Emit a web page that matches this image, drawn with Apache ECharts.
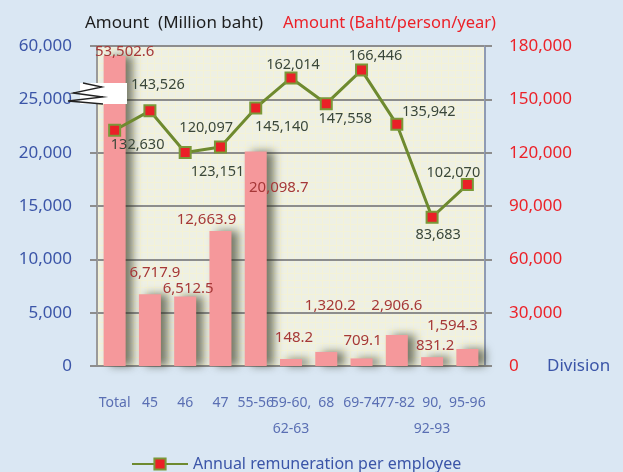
<!DOCTYPE html>
<html>
<head>
<meta charset="utf-8">
<style>
  html, body { margin: 0; padding: 0; background: #dae7f3; }
  #chart { width: 623px; height: 472px; }
</style>
<script src="https://cdn.jsdelivr.net/npm/echarts@6/dist/echarts.min.js"></script>
</head>
<body>
<div id="chart"></div>
<script>
// divisions on the x axis
const divisions = ['Total', '45', '46', '47', '55-56', '59-60,\n62-63', '68', '69-74', '77-82', '90,\n92-93', '95-96']
// amount, million baht (left axis, broken above 25,000)
const amountMillion = [53502.6, 6717.9, 6512.5, 12663.9, 20098.7, 148.2, 1320.2, 709.1, 2906.6, 831.2, 1594.3]
// annual remuneration per employee, baht/person/year (right axis)
const perEmployee = [132630, 143526, 120097, 123151, 145140, 162014, 147558, 166446, 135942, 83683, 102070]

// label nudges so the numbers sit where the original puts them
const barLabelOffsets = [[10, 3], [5, -14], [3, 0], [-14, -4], [23, 44], [3, -14], [4, -39], [1, -10], [0, -22], [3, -4], [-15, -16]]
const lineLabelOffsets = [[23, 15], [8, -26], [21, -25], [-3, 25], [26, 19], [2, -13], [19, 15], [14, -14], [32, -12], [6, 18], [-14, -12]]

// left axis is broken: 0..25,000 linear, then 25,000..60,000 squeezed into the last step
const BREAK = 25000
const SQUEEZE = 7
function toAxis(v) {
  return v <= BREAK ? v : BREAK + (v - BREAK) / SQUEEZE
}
function fromAxis(a) {
  return a <= BREAK ? a : BREAK + (a - BREAK) * SQUEEZE
}
function fmt(v, digits) {
  return v.toLocaleString('en-US', { minimumFractionDigits: digits, maximumFractionDigits: digits })
}

// faint checked paper behind the plot
const paper = document.createElement('canvas')
paper.width = 7
paper.height = 7
const pctx = paper.getContext('2d')
pctx.fillStyle = '#eef0e4'
pctx.fillRect(0, 0, 7, 7)
pctx.fillStyle = '#f4f2d6'
pctx.fillRect(0, 0, 7, 1)
pctx.fillRect(0, 0, 1, 7)

const FONT = 'Noto Sans'
const BLUE = '#3b55a8'
const RED = '#ec2229'
const GRAY = '#8d8d8d'

const chart = echarts.init(document.getElementById('chart'))

chart.setOption({
  backgroundColor: '#dae7f3',
  textStyle: { fontFamily: FONT },
  animation: false,
  title: [
    { text: 'Amount  (Million baht)', left: 80, top: 10, textStyle: { color: '#1e1e1e', fontSize: 17, fontWeight: 'normal', fontFamily: FONT } },
    { text: 'Amount (Baht/person/year)', left: 278, top: 10, textStyle: { color: RED, fontSize: 16.5, fontWeight: 'normal', fontFamily: FONT } }
  ],
  grid: {
    left: 97,
    right: 138,
    top: 46,
    bottom: 106,
    show: true,
    borderWidth: 0,
    backgroundColor: { image: paper, repeat: 'repeat' }
  },
  legend: {
    left: 126,
    top: 451,
    itemWidth: 56,
    itemHeight: 14,
    textStyle: { color: BLUE, fontSize: 16, fontFamily: FONT },
    data: ['Annual remuneration per employee']
  },
  xAxis: {
    type: 'category',
    data: divisions,
    name: 'Division',
    nameLocation: 'end',
    nameGap: 62,
    nameTextStyle: { color: BLUE, fontSize: 17, verticalAlign: 'middle' },
    axisLine: { lineStyle: { color: GRAY, width: 2 } },
    axisTick: { show: false },
    axisLabel: { color: '#5a6fb3', fontSize: 14, margin: 24, lineHeight: 26, interval: 0 }
  },
  yAxis: [
    {
      type: 'value',
      min: 0,
      max: 30000,
      interval: 5000,
      axisLine: { show: true, lineStyle: { color: '#9a9a9a', width: 2 } },
      axisTick: { show: true, length: 7, lineStyle: { color: GRAY, width: 2 } },
      splitLine: { lineStyle: { color: GRAY, width: 2 } },
      axisLabel: {
        color: BLUE,
        fontSize: 17,
        margin: 25,
        formatter: function (a) { return fmt(fromAxis(a), 0) }
      }
    },
    {
      type: 'value',
      min: 0,
      max: 180000,
      interval: 30000,
      position: 'right',
      axisLine: { show: true, lineStyle: { color: '#8f9bb4', width: 2 } },
      axisTick: { show: true, length: 7, lineStyle: { color: GRAY, width: 2 } },
      splitLine: { show: false },
      axisLabel: {
        color: RED,
        fontSize: 17,
        margin: 24,
        formatter: function (v) { return fmt(v, 0) }
      }
    }
  ],
  series: [
    {
      name: 'Amount',
      type: 'bar',
      yAxisIndex: 0,
      barWidth: 22,
      barMinHeight: 7,
      itemStyle: {
        color: '#f5989b',
        shadowColor: 'rgba(40,45,25,0.6)',
        shadowBlur: 9,
        shadowOffsetX: 7
      },
      data: amountMillion.map(function (v, i) {
        return {
          value: toAxis(v),
          label: { offset: barLabelOffsets[i] }
        }
      }),
      label: {
        show: true,
        position: 'top',
        distance: 0,
        color: '#a63838',
        fontSize: 15,
        formatter: function (p) { return fmt(amountMillion[p.dataIndex], 1) }
      },
      z: 2
    },
    {
      name: 'Annual remuneration per employee',
      type: 'line',
      yAxisIndex: 1,
      symbol: 'rect',
      symbolSize: 11,
      lineStyle: { color: '#6e8a2f', width: 3 },
      itemStyle: { color: '#ea2027', borderColor: '#7a9838', borderWidth: 2 },
      data: perEmployee.map(function (v, i) {
        return { value: v, label: { offset: lineLabelOffsets[i] } }
      }),
      label: {
        show: true,
        position: 'inside',
        color: '#3a473a',
        fontSize: 14.5,
        formatter: function (p) { return fmt(p.value, 0) }
      },
      z: 3
    }
  ],
  graphic: [
    {
      type: 'rect',
      z: 100,
      shape: { x: 80, y: 83, width: 47, height: 21 },
      style: { fill: '#ffffff' }
    },
    {
      type: 'polyline',
      z: 101,
      shape: { points: [[83, 83], [102, 87], [73, 93], [103, 97], [68, 101], [103, 104]] },
      style: { stroke: '#222222', lineWidth: 1.3, fill: null }
    }
  ]
})
</script>
</body>
</html>
